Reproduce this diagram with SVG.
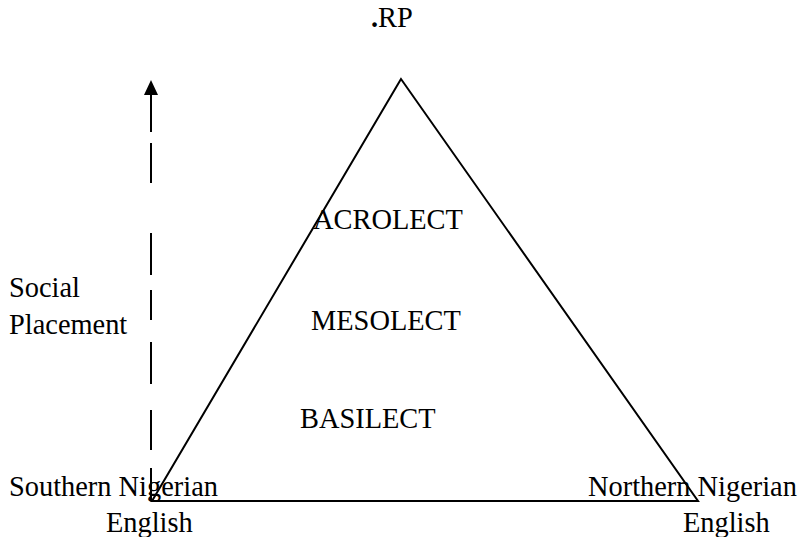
<svg xmlns="http://www.w3.org/2000/svg" width="800" height="537" viewBox="0 0 800 537">
<style>
text{font-family:'Liberation Serif','Times New Roman',Times,serif;font-size:28.4px;fill:#000}
.ln{stroke:#000;stroke-width:2;fill:none}
</style>
<rect width="800" height="537" fill="#fff"/>
<g id="connectors">
<path class="ln" d="M151,95V132M151,143V183M151,233V275M151,290V320M151,342V384M151,410V450M151,468V501"/>
<polygon points="151,80 144,95 158,95" fill="#000"/>
</g>
<g id="triangle">
<polygon class="ln" points="401,79 152,501 698,501"/>
</g>
<g id="rp"><text x="371" y="27"><tspan font-weight="bold">.</tspan>RP</text></g>
<g id="acrolect"><text x="313" y="229">ACROLECT</text></g>
<g id="mesolect"><text x="311" y="330">MESOLECT</text></g>
<g id="basilect"><text x="300" y="428">BASILECT</text></g>
<g id="social"><text x="9" y="297">Social</text><text x="9" y="334">Placement</text></g>
<g id="southern"><text x="9" y="496">Southern Nigerian</text><text x="106" y="532">English</text></g>
<g id="northern"><text x="588" y="496">Northern Nigerian</text><text x="683" y="532">English</text></g>
</svg>
